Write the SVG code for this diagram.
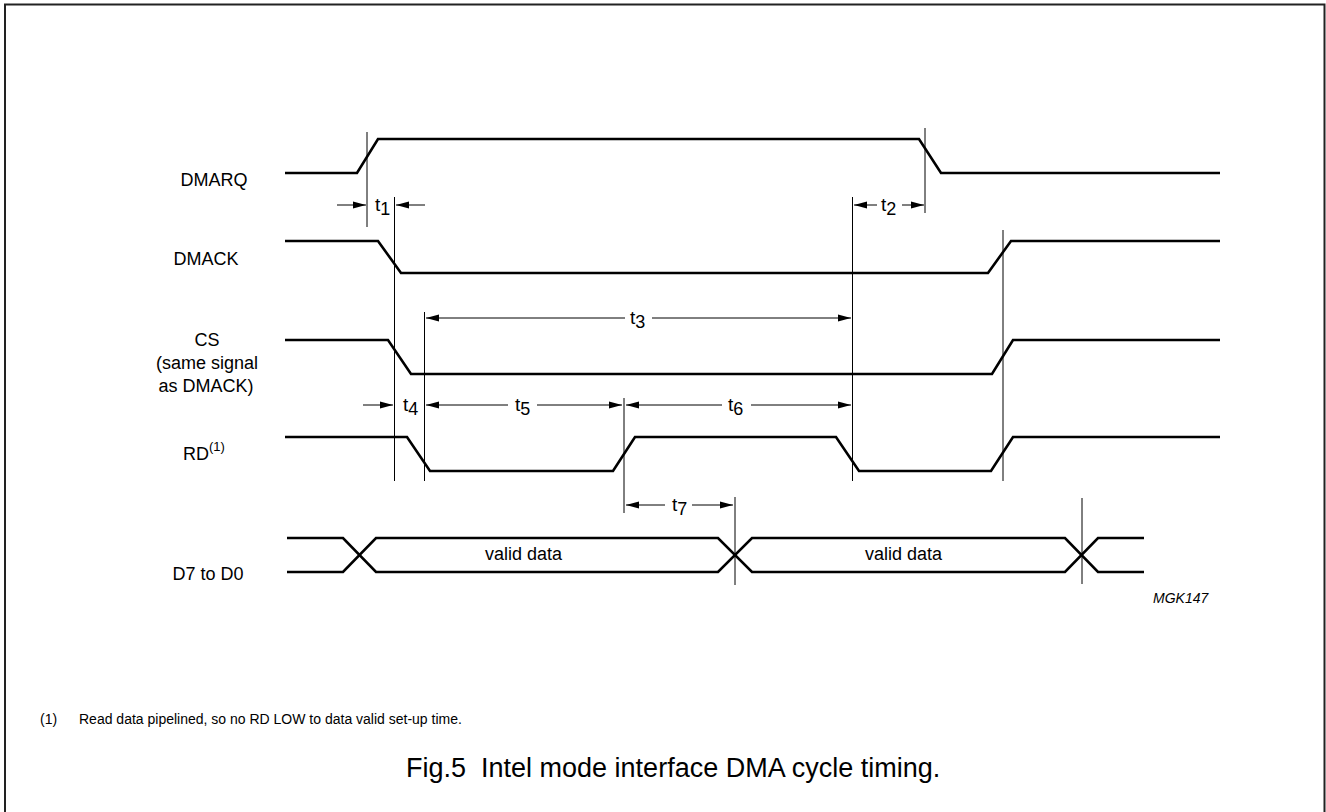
<svg xmlns="http://www.w3.org/2000/svg" width="1326" height="812" viewBox="0 0 1326 812">
<defs>
<marker id="ah" viewBox="0 0 13 8" refX="13" refY="4" markerWidth="13" markerHeight="8" markerUnits="userSpaceOnUse" orient="auto">
<path d="M0,0.5 L13,4 L0,7.5 Z" fill="#000"/>
</marker>
<style>
.sig{fill:none;stroke:#000;stroke-width:2.6;stroke-linejoin:miter}
.ref{fill:none;stroke:#000;stroke-width:1}
.arr{fill:none;stroke:#000;stroke-width:1;marker-end:url(#ah)}
.lbl{font-family:"Liberation Sans",Arial,sans-serif;font-size:18px;fill:#000}
.tl{font-family:"Liberation Sans",Arial,sans-serif;font-size:19px;fill:#000}
.sm{font-family:"Liberation Sans",Arial,sans-serif;font-size:14px;fill:#000}
</style>
</defs>
<rect width="1326" height="812" fill="#fff"/>
<path d="M5,812 V4.5 H1324.5 V812" fill="none" stroke="#222" stroke-width="2"/>

<g id="labels">
<text class="lbl" x="214" y="186" text-anchor="middle">DMARQ</text>
<text class="lbl" x="206" y="265" text-anchor="middle">DMACK</text>
<text class="lbl" x="207" y="346" text-anchor="middle">CS</text>
<text class="lbl" x="207" y="369" text-anchor="middle">(same signal</text>
<text class="lbl" x="206" y="392" text-anchor="middle">as DMACK)</text>
<text class="lbl" x="183" y="460">RD<tspan font-size="13" dy="-9">(1)</tspan></text>
<text class="lbl" x="208" y="580" text-anchor="middle">D7 to D0</text>
</g>

<g id="signals">
<path id="dmarq" class="sig" d="M285,173 H357 L378,139 H919 L941,173 H1220"/>
<path id="dmack" class="sig" d="M285,241 H378 L401,273 H988 L1011,241 H1220"/>
<path id="cs" class="sig" d="M285,340 H388 L411,374 H992 L1013,340 H1220"/>
<path id="rd" class="sig" d="M285,437 H407 L430,471 H613 L635,437 H836 L859,471 H991 L1013,437 H1220"/>
<g id="data">
<path class="sig" d="M287,538 H343 L376,572 H718 L752,538 H1065 L1098,572 H1144"/>
<path class="sig" d="M287,572 H343 L376,538 H718 L752,572 H1065 L1098,538 H1144"/>
<text class="lbl" x="485" y="560">valid data</text>
<text class="lbl" x="865" y="560">valid data</text>
</g>
</g>

<g id="connectors">
<path class="ref" d="M367,132 V227"/>
<path class="ref" d="M394.5,197 V481"/>
<path class="ref" d="M424.5,312 V481"/>
<path class="ref" d="M624,398 V513"/>
<path class="ref" d="M852.5,197 V481"/>
<path class="ref" d="M925,128 V213"/>
<path class="ref" d="M1003,230 V481"/>
<path class="ref" d="M735,497 V585"/>
<path class="ref" d="M1082,498 V584"/>

<path class="arr" d="M337,205 H366"/>
<path class="arr" d="M425,205 H396"/>
<path class="arr" d="M877,205 H854"/>
<path class="arr" d="M902,205 H924"/>
<path class="arr" d="M625,318 H426"/>
<path class="arr" d="M652,318 H851"/>
<path class="arr" d="M363,405 H393"/>
<path class="arr" d="M508,405 H426"/>
<path class="arr" d="M537,405 H622"/>
<path class="arr" d="M722,405 H626"/>
<path class="arr" d="M751,405 H851"/>
<path class="arr" d="M665,505 H626"/>
<path class="arr" d="M692,505 H733"/>
</g>

<g id="timing-labels">
<text class="tl" x="375" y="211">t<tspan dy="4" font-size="18">1</tspan></text>
<text class="tl" x="881" y="211">t<tspan dy="4" font-size="18">2</tspan></text>
<text class="tl" x="630" y="324">t<tspan dy="4" font-size="18">3</tspan></text>
<text class="tl" x="403" y="411">t<tspan dy="4" font-size="18">4</tspan></text>
<text class="tl" x="515" y="411">t<tspan dy="4" font-size="18">5</tspan></text>
<text class="tl" x="728" y="411">t<tspan dy="4" font-size="18">6</tspan></text>
<text class="tl" x="672" y="511">t<tspan dy="4" font-size="18">7</tspan></text>
</g>

<text class="sm" x="1153" y="603" font-style="italic" font-size="13">MGK147</text>
<g id="footnote">
<text class="sm" x="40" y="724">(1)</text>
<text class="sm" x="79" y="724">Read data pipelined, so no RD LOW to data valid set-up time.</text>
</g>
<text x="406" y="777" font-family="Liberation Sans, Arial, sans-serif" font-size="27" fill="#000" xml:space="preserve">Fig.5  Intel mode interface DMA cycle timing.</text>
</svg>
